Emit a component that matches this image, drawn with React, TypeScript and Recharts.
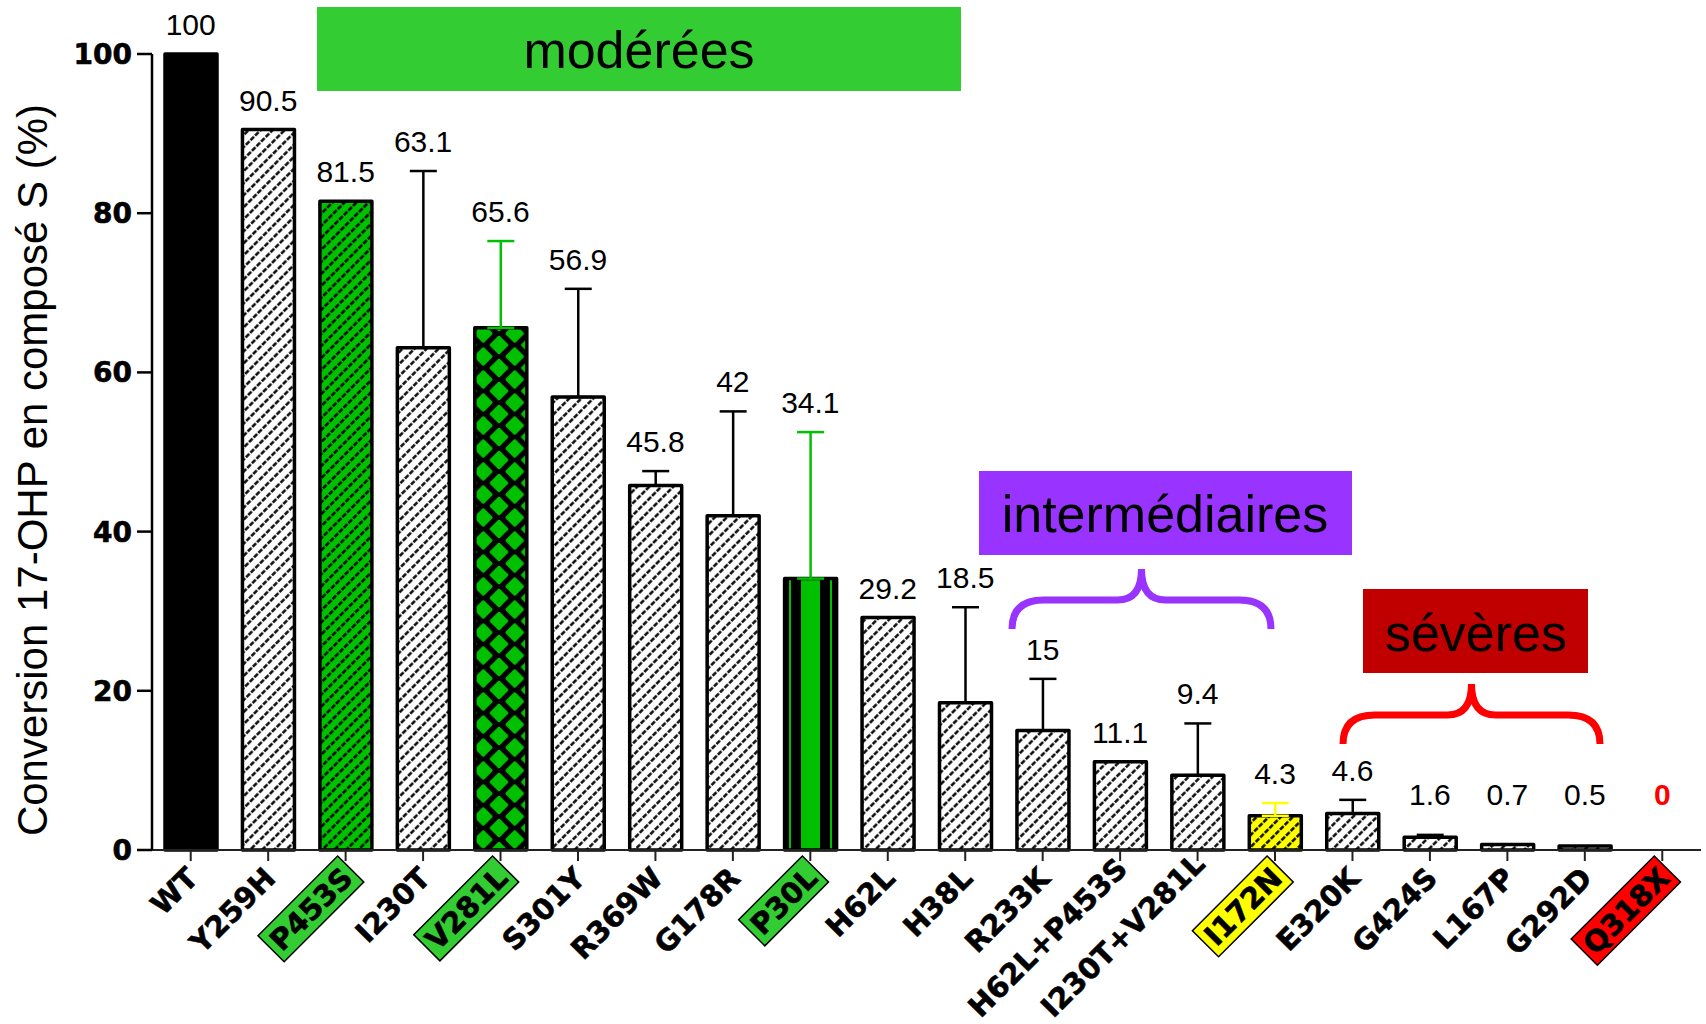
import React from 'react';
import { BarChart, Bar, XAxis, YAxis, Cell, ErrorBar, ReferenceDot, Customized } from 'recharts';

const categories = ['WT', 'Y259H', 'P453S', 'I230T', 'V281L', 'S301Y', 'R369W', 'G178R', 'P30L', 'H62L', 'H38L', 'R233K', 'H62L+P453S', 'I230T+V281L', 'I172N', 'E320K', 'G424S', 'L167P', 'G292D', 'Q318X'];
const conversion = [100, 90.5, 81.5, 63.1, 65.6, 56.9, 45.8, 42, 34.1, 29.2, 18.5, 15, 11.1, 9.4, 4.3, 4.6, 1.6, 0.7, 0.5, 0];
const errorUpper = [0, 0, 0, 22.2, 10.9, 13.6, 1.8, 13.1, 18.4, 0, 12.0, 6.5, 0, 6.5, 1.6, 1.7, 0.3, 0, 0, 0];
const errorTone = ['', '', '', 'black', 'green', 'black', 'black', 'black', 'green', '', 'black', 'black', '', 'black', 'yellow', 'black', 'black', '', '', ''];
const barFill = ['solid', 'hatch', 'hatchGreen', 'hatch', 'lattice', 'hatch', 'hatch', 'hatch', 'stripes', 'hatch', 'hatch', 'hatch', 'hatch', 'hatch', 'hatchYellow', 'hatch', 'hatch', 'hatch', 'hatch', 'hatch'];
const labelHighlight = ['', '', 'green', '', 'green', '', '', '', 'green', '', '', '', '', '', 'yellow', '', '', '', '', 'red'];
const yTicks = [0, 20, 40, 60, 80, 100];
const yTitle = 'Conversion 17-OHP en composé S (%)';
const groupNames = ['modérées', 'intermédiaires', 'sévères'];

const CHART_W = 1706;
const CHART_H = 1024;
const MARGIN_TOP = 54;
const XAXIS_H = 174;
const ZERO_Y = CHART_H - XAXIS_H;

const FILL: Record<string, string> = {
  solid: '#000000',
  hatch: 'url(#hatchW)',
  hatchGreen: 'url(#hatchG)',
  hatchYellow: 'url(#hatchY)',
  lattice: 'url(#lattice)',
  stripes: 'url(#stripes)',
};
const HL: Record<string, string> = { green: '#33CC33', yellow: '#FFFF00', red: '#FF0000' };

const data = categories.map((name, i) => ({
  name,
  value: conversion[i],
  errBlack: errorTone[i] === 'black' ? [0, errorUpper[i]] : null,
  errGreen: errorTone[i] === 'green' ? [0, errorUpper[i]] : null,
  errYellow: errorTone[i] === 'yellow' ? [0, errorUpper[i]] : null,
}));

let ctx: CanvasRenderingContext2D | null = null;
const measure = (t: string, font: string) => {
  if (!ctx) ctx = document.createElement('canvas').getContext('2d');
  if (!ctx) return t.length * 19;
  ctx.font = font;
  return ctx.measureText(t).width;
};

const FONT = '"Liberation Sans", Arial, sans-serif';
const HEAVY = '"DejaVu Sans", sans-serif';
const XFS = 29;

const XTick = (props: any) => {
  const { x, y, payload } = props;
  const label = String(payload.value);
  const i = categories.indexOf(label);
  const hl = labelHighlight[i];
  const w = measure(label, `bold ${XFS}px "DejaVu Sans"`);
  const ay = Math.min(y + 19, CHART_H - 5 - w * 0.7071);
  return (
    <g transform={`translate(${x + 9},${ay})`}>
      <g transform="rotate(-45)">
        {hl ? (
          <rect x={-w - 5} y={-29} width={w + 10} height={37} fill={HL[hl]} stroke="#000" strokeWidth={1.5} />
        ) : null}
        <text x={0} y={0} textAnchor="end" fontFamily={HEAVY} fontWeight={700} fontSize={XFS} fill="#000" stroke="#000" strokeWidth={0.6}>
          {label}
        </text>
      </g>
    </g>
  );
};

const YTick = (props: any) => {
  const { x, y, payload } = props;
  return (
    <text x={x} y={y} dy={10} textAnchor="end" fontFamily={HEAVY} fontWeight={700} fontSize={28} fill="#000" stroke="#000" strokeWidth={0.6}>
      {String(payload.value)}
    </text>
  );
};

const makeValueLabel = (i: number) => (props: any) => {
  const vb = props.viewBox || props;
  const cx = vb.x + (vb.width || 0) / 2;
  const cy = vb.y + (vb.height || 0) / 2;
  const v = conversion[i];
  const isZero = v === 0;
  const ty = Math.min(cy - 19, ZERO_Y - 45);
  return (
    <text
      x={cx}
      y={ty}
      textAnchor="middle"
      fontFamily={FONT}
      fontSize={30}
      fontWeight={isZero ? 700 : 400}
      fill={isZero ? '#FF0000' : '#000'}
    >
      {String(v)}
    </text>
  );
};

const bracePath = (x1: number, x2: number, yEnd: number, yH: number, yPeak: number) => {
  const xc = (x1 + x2) / 2;
  const r = 32;
  const p = 24;
  return `M${x1},${yEnd} Q${x1},${yH} ${x1 + r},${yH} L${xc - p},${yH} Q${xc},${yH} ${xc},${yPeak} Q${xc},${yH} ${xc + p},${yH} L${x2 - r},${yH} Q${x2},${yH} ${x2},${yEnd}`;
};

const Annotations = () => (
  <g>
    <text transform="translate(47,470) rotate(-90)" textAnchor="middle" fontFamily={FONT} fontSize={42} fill="#000">
      {yTitle}
    </text>
    <rect x={317} y={7} width={644} height={84} fill="#33CC33" />
    <text x={639} y={68} textAnchor="middle" fontFamily={FONT} fontSize={52} fill="#000">{groupNames[0]}</text>
    <rect x={979} y={471} width={373} height={84} fill="#9933FF" />
    <text x={1165} y={532} textAnchor="middle" fontFamily={FONT} fontSize={52} fill="#000">{groupNames[1]}</text>
    <rect x={1363} y={589} width={225} height={84} fill="#C00000" />
    <text x={1476} y={651} textAnchor="middle" fontFamily={FONT} fontSize={52} fill="#000">{groupNames[2]}</text>
    <path d={bracePath(1012, 1271, 629, 600, 569)} fill="none" stroke="#9933FF" strokeWidth={7} />
    <path d={bracePath(1343, 1600, 744, 715, 684)} fill="none" stroke="#FF0000" strokeWidth={7} />
  </g>
);

const hatchPattern = (id: string, bg: string) => (
  <pattern id={id} patternUnits="userSpaceOnUse" width="6.5" height="8.5" patternTransform="rotate(-45)">
    <rect width="6.5" height="8.5" fill={bg} />
    <line x1="0" y1="4.25" x2="5" y2="4.25" stroke="#000" strokeWidth="2.4" />
  </pattern>
);

export default function App() {
  return (
    <div style={{ position: 'absolute', left: 0, top: 0, width: CHART_W, height: CHART_H, background: '#fff' }}>
      <BarChart width={CHART_W} height={CHART_H} data={data} margin={{ top: MARGIN_TOP, right: 5, bottom: 0, left: 0 }} barSize={52}>
        <defs>
          {hatchPattern('hatchW', '#ffffff')}
          {hatchPattern('hatchG', '#00C000')}
          {hatchPattern('hatchY', '#FFFF00')}
          <pattern id="lattice" patternUnits="userSpaceOnUse" width="31.4" height="23" x="499" y="0">
            <rect width="31.4" height="23" fill="#000" />
            {[[0, 0], [31.4, 0], [0, 23], [31.4, 23], [15.7, 11.5]].map(([cx, cy], k) => (
              <path
                key={k}
                d={`M${cx},${cy - 8} L${cx + 8},${cy} L${cx},${cy + 8} L${cx - 8},${cy} Z`}
                fill="#00C000"
                stroke="#00C000"
                strokeWidth={2.5}
                strokeLinejoin="round"
              />
            ))}
          </pattern>
          <linearGradient id="stripes" x1="0" y1="0" x2="1" y2="0">
            <stop offset="0" stopColor="#000" />
            <stop offset="0.09" stopColor="#000" />
            <stop offset="0.09" stopColor="#00C000" />
            <stop offset="0.125" stopColor="#00C000" />
            <stop offset="0.125" stopColor="#000" />
            <stop offset="0.32" stopColor="#000" />
            <stop offset="0.32" stopColor="#00C000" />
            <stop offset="0.68" stopColor="#00C000" />
            <stop offset="0.68" stopColor="#000" />
            <stop offset="0.875" stopColor="#000" />
            <stop offset="0.875" stopColor="#00C000" />
            <stop offset="0.91" stopColor="#00C000" />
            <stop offset="0.91" stopColor="#000" />
            <stop offset="1" stopColor="#000" />
          </linearGradient>
        </defs>
        <XAxis
          xAxisId="main"
          dataKey="name"
          height={XAXIS_H}
          interval={0}
          tick={<XTick />}
          tickSize={11}
          tickMargin={0}
          axisLine={{ stroke: '#222', strokeWidth: 2 }}
          tickLine={{ stroke: '#222', strokeWidth: 2 }}
        />
        <XAxis xAxisId="err" dataKey="name" hide height={0} />
        <YAxis
          domain={[0, 100]}
          ticks={yTicks}
          interval={0}
          width={152}
          tickSize={15}
          tickMargin={5}
          axisLine={{ stroke: '#000', strokeWidth: 2.5 }}
          tickLine={{ stroke: '#000', strokeWidth: 2.5 }}
          tick={<YTick />}
        />
        <Bar xAxisId="err" dataKey="value" fill="none" stroke="none" isAnimationActive={false}>
          <ErrorBar dataKey="errBlack" width={13.5} stroke="#000" strokeWidth={2.5} direction="y" />
          <ErrorBar dataKey="errGreen" width={13.5} stroke="#00C000" strokeWidth={2.5} direction="y" />
          <ErrorBar dataKey="errYellow" width={13.5} stroke="#FFFF00" strokeWidth={2.5} direction="y" />
        </Bar>
        <Bar xAxisId="main" dataKey="value" stroke="#000" strokeWidth={3.5} strokeLinejoin="round" isAnimationActive={false}>
          {data.map((d, i) => (
            <Cell key={d.name} fill={FILL[barFill[i]]} />
          ))}
        </Bar>
        {data.map((d, i) => (
          <ReferenceDot
            key={`lbl-${d.name}`}
            xAxisId="main"
            x={d.name}
            y={conversion[i] + errorUpper[i]}
            r={1}
            fill="none"
            stroke="none"
            ifOverflow="visible"
            label={makeValueLabel(i)}
          />
        ))}
        <Customized component={Annotations} />
      </BarChart>
    </div>
  );
}
